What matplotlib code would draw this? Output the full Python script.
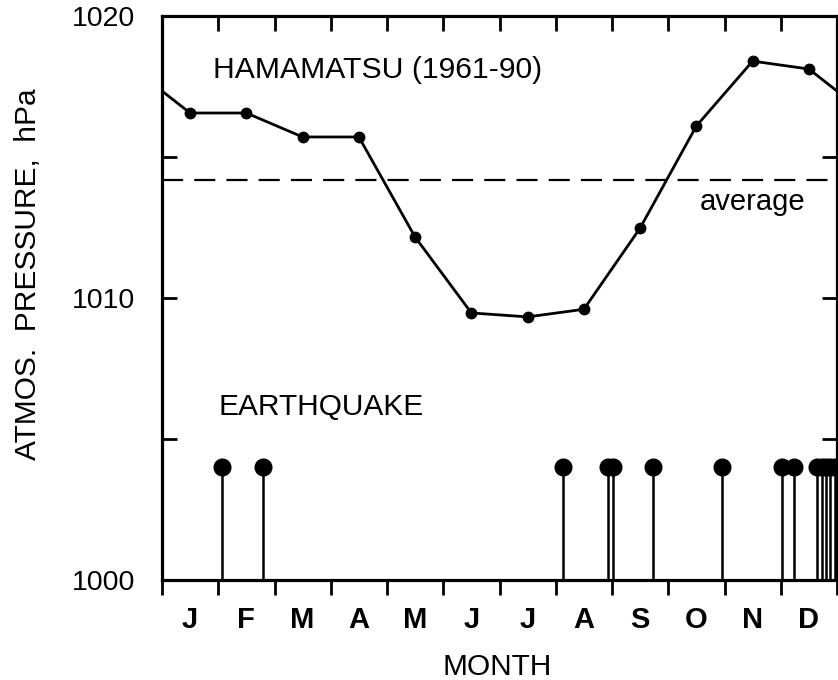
"""Hamamatsu monthly mean pressure (1961-90) with earthquake dates."""

import matplotlib

matplotlib.use("Agg")
import matplotlib.pyplot as plt
import numpy as np

plt.rcParams["font.family"] = ["Liberation Sans", "DejaVu Sans"]

# monthly mean atmospheric pressure, hPa
months = ["J", "F", "M", "A", "M", "J", "J", "A", "S", "O", "N", "D"]
pressure = [1016.56, 1016.56, 1015.71, 1015.71, 1012.16, 1009.47,
            1009.33, 1009.60, 1012.48, 1016.10, 1018.40, 1018.12]

# earthquake dates in month units (0 = 1 Jan, 12 = 31 Dec)
quake_dates = [1.07, 1.80, 7.13, 7.93, 8.02, 8.73, 9.96,
               11.02, 11.24, 11.64, 11.73, 11.80, 11.88, 11.97]
quake_level = 1004.0

ylim = (1000, 1020)

fig = plt.figure(figsize=(8.38, 6.8), dpi=100)
ax = fig.add_axes([162 / 838, 1 - 580 / 680, 675 / 838, 564 / 680])

# pressure curve, wrapped round the year so it runs out to both edges
mid = np.arange(12) + 0.5
x_line = np.concatenate([[mid[-1] - 12], mid, [mid[0] + 12]])
y_line = np.concatenate([[pressure[-1]], pressure, [pressure[0]]])
ax.plot(x_line, y_line, color="black", lw=2.0)
ax.plot(mid, pressure, "o", color="black", ms=7.5)

avg = np.mean(pressure)
ax.axhline(avg, color="black", lw=1.6, dashes=(9.5, 5))

# earthquakes
ax.vlines(quake_dates, ylim[0], quake_level, color="black", lw=1.8)
ax.plot(quake_dates, [quake_level] * len(quake_dates), "o",
        color="black", ms=12, clip_on=False)

ax.set_xlim(0, 12)
ax.set_ylim(*ylim)

for s in ax.spines.values():
    s.set_linewidth(2.3)

# month boundaries: outward ticks at bottom, labels centred in each month
ax.set_xticks(np.arange(13))
ax.set_xticklabels([])
ax.tick_params(axis="x", which="major", direction="out", length=11,
               width=2.0, top=False)
ax.set_xticks(mid, minor=True)
ax.set_xticklabels(months, minor=True, fontsize=21, fontweight="bold")
ax.tick_params(axis="x", which="minor", length=0, pad=19)

# inward ticks along the top
top = ax.secondary_xaxis("top")
top.set_xticks(np.arange(1, 12))
top.set_xticklabels([])
top.tick_params(direction="in", length=11, width=2.0)
top.spines["top"].set_visible(False)

ax.set_yticks([1000, 1005, 1010, 1015, 1020])
ax.set_yticklabels(["1000", "", "1010", "", "1020"], fontsize=20.5)
ax.tick_params(axis="y", direction="in", length=11, width=2.0, pad=19,
               right=True)

ax.text(0.91, 1017.80, "HAMAMATSU (1961-90)", fontsize=21.7, va="baseline")
ax.text(1.0, 1005.85, "EARTHQUAKE", fontsize=21.5, va="baseline")
ax.text(9.56, 1013.12, "average", fontsize=21, va="baseline")

fig.text(497 / 838, 1 - 675 / 680, "MONTH", fontsize=21.5,
         ha="center", va="baseline")
fig.text(28 / 838, 1 - 274 / 680, "ATMOS.  PRESSURE,  hPa", fontsize=21.5,
         rotation=90, ha="center", va="center")

fig.savefig("out.png", dpi=100)
